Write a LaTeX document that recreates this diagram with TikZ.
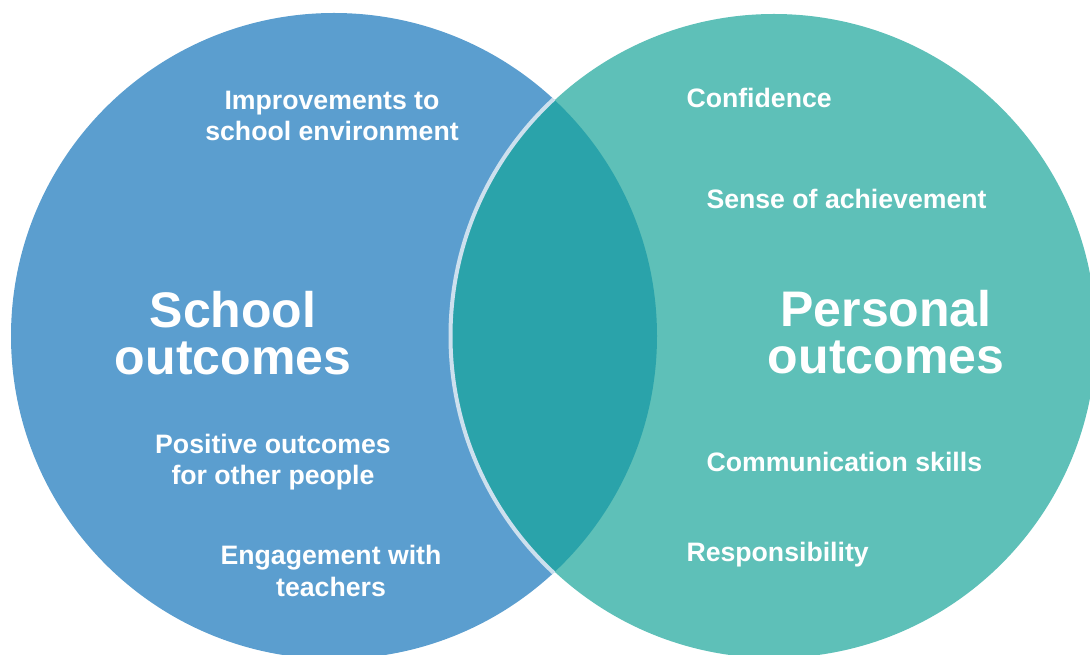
\documentclass[tikz,border=0pt]{standalone}
\usepackage{fontspec}
\setmainfont{Liberation Sans}
\definecolor{schoolblue}{RGB}{91,158,207}
\definecolor{personalteal}{RGB}{94,192,184}
\definecolor{overlapteal}{RGB}{42,163,170}
\definecolor{rimblue}{RGB}{205,224,238}
\tikzset{every picture/.style={line width=0.75pt}}
\tikzset{
  smalltext/.style={text=white, font=\fontsize{20}{23.5}\selectfont\bfseries, align=center, inner sep=0pt},
  bigtext/.style={text=white, font=\fontsize{37.5}{35}\selectfont\bfseries, align=center, inner sep=0pt}
}

\begin{document}
\begin{tikzpicture}[x=0.75pt,y=0.75pt,yscale=-1,xscale=1]
\useasboundingbox (0,0) rectangle (1090,655);
\clip (0,0) rectangle (1090,655);

%Shape: Circle [id:school]
\fill [schoolblue] (334,336) circle [radius=323];
%Shape: Circle [id:personal]
\fill [personalteal] (774,336) circle [radius=322];
%Shape: Overlap
\begin{scope}
\clip (334,336) circle [radius=323];
\fill [overlapteal] (774,336) circle [radius=322];
\draw [rimblue, line width=3] (774,336) circle [radius=323.5];
\end{scope}

% Text Node
\node [smalltext] (improve) at (332,116) {Improvements to\\school environment};
% Text Node
\node [bigtext] (school) at (233,333) {School\\outcomes};
% Text Node
\node [smalltext] (positive) at (273,462) {Positive outcomes\\for other people};
% Text Node
\node [smalltext] (engage) at (331,571) {Engagement with\\teachers};
% Text Node
\node [smalltext, anchor=west] (confidence) at (686,98) {Confidence};
% Text Node
\node [smalltext, anchor=west] (sense) at (706,199) {Sense of achievement};
% Text Node
\node [smalltext, anchor=west] (communication) at (706,462) {Communication skills};
% Text Node
\node [smalltext, anchor=west] (responsibility) at (686,555) {Responsibility};
% Text Node
\node [bigtext] (personal) at (886,332) {Personal\\outcomes};

\end{tikzpicture}
\end{document}
